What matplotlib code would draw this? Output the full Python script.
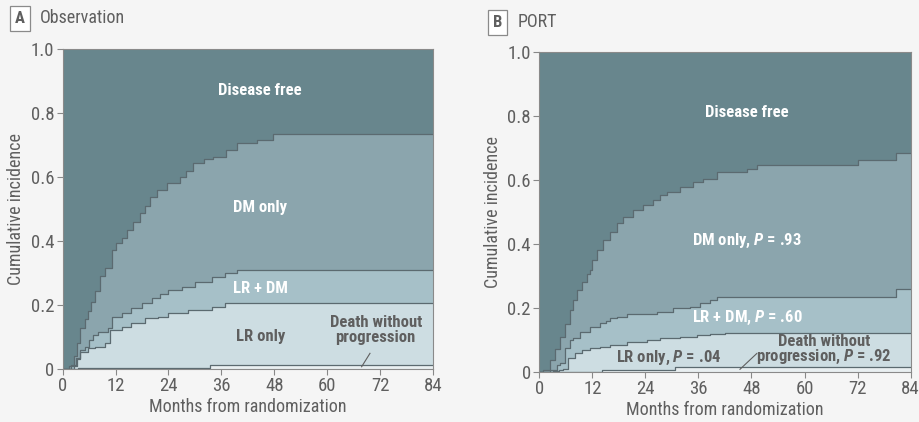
import matplotlib
matplotlib.use("Agg")
import matplotlib.pyplot as plt

plt.rcParams["font.family"] = ["Roboto Condensed", "Roboto", "DejaVu Sans"]
plt.rcParams["mathtext.fontset"] = "custom"
plt.rcParams["mathtext.it"] = "Roboto Condensed:italic:bold"
plt.rcParams["mathtext.rm"] = "Roboto Condensed:bold"

# cumulative incidence, stacked: death, LR only, LR + DM, DM only (months, proportion)
obs_death_t = [0, 3.5, 33.4, 84]
obs_death_v = [0, 0.003, 0.013, 0.013]
obs_lr_t = [0, 2.5, 3.2, 3.9, 5.8, 7.3, 9.6, 10.7, 13.4, 15.6, 18.7, 21.7, 24.0, 28.5, 33.8, 36.8, 84]
obs_lr_v = [0, 0.01, 0.03, 0.054, 0.065, 0.07, 0.08, 0.122, 0.132, 0.143, 0.158, 0.163, 0.174, 0.184, 0.195, 0.205, 0.205]
obs_lrdm_t = [0, 2.0, 3.0, 3.9, 5.1, 6.0, 6.9, 8.1, 10.3, 11.1, 13.4, 15.6, 17.9, 20.2, 22.0, 24.0, 27.0, 30.0, 33.8, 36.8, 39.5, 84]
obs_lrdm_v = [0, 0.012, 0.035, 0.059, 0.07, 0.09, 0.106, 0.117, 0.127, 0.163, 0.174, 0.19, 0.205, 0.221, 0.235, 0.247, 0.257, 0.273, 0.288, 0.299, 0.309, 0.309]
obs_dm_t = [0, 1.5, 2.5, 3.2, 3.9, 5.0, 5.8, 6.5, 7.3, 8.5, 9.6, 11.1, 12.2, 13.4, 14.5, 16.0, 17.5, 18.6,
            19.8, 21.5, 23.6, 26.6, 28.0, 29.6, 32.0, 34.2, 37.0, 39.5, 44.0, 47.8, 84]
obs_dm_v = [0, 0.01, 0.04, 0.08, 0.127, 0.155, 0.18, 0.21, 0.245, 0.29, 0.315, 0.372, 0.393, 0.41, 0.434, 0.46, 0.486, 0.51,
            0.538, 0.56, 0.58, 0.60, 0.62, 0.643, 0.655, 0.663, 0.685, 0.705, 0.716, 0.734, 0.734]

port_death_t = [0, 14.1, 30.7, 84]
port_death_v = [0, 0.006, 0.014, 0.014]
port_lr_t = [0, 3.0, 4.5, 5.4, 6.6, 8.1, 9.6, 11.5, 13.7, 16.0, 19.8, 24.3, 27.3, 31.8, 35.6, 38.6, 42.0, 84]
port_lr_v = [0, 0.003, 0.006, 0.01, 0.042, 0.057, 0.068, 0.073, 0.078, 0.083, 0.094, 0.099, 0.104, 0.109, 0.115, 0.118, 0.122, 0.122]
port_lrdm_t = [0, 2.4, 3.9, 4.7, 5.8, 6.9, 7.7, 9.2, 11.5, 13.7, 15.2, 16.0, 17.5, 19.8, 26.6, 30.3, 34.1, 36.3, 38.6, 40.1, 80.8, 84]
port_lrdm_v = [0, 0.005, 0.02, 0.026, 0.073, 0.099, 0.105, 0.125, 0.14, 0.151, 0.158, 0.167, 0.172, 0.182, 0.1875, 0.198, 0.203, 0.214, 0.224, 0.234, 0.258, 0.258]
port_dm_t = [0, 0.9, 2.4, 3.5, 4.7, 5.8, 6.9, 7.7, 8.5, 9.6, 10.7, 11.5, 11.9, 13.0, 14.5, 16.0, 17.5, 19.0, 21.3,
             23.5, 25.8, 27.3, 28.8, 31.8, 34.8, 37.1, 40.1, 46.9, 49.2, 72.2, 80.8, 84]
port_dm_v = [0, 0.005, 0.037, 0.07, 0.11, 0.15, 0.193, 0.225, 0.255, 0.28, 0.307, 0.318, 0.349, 0.38, 0.412, 0.4375, 0.464, 0.484, 0.505,
             0.521, 0.537, 0.552, 0.563, 0.578, 0.594, 0.604, 0.625, 0.636, 0.646, 0.664, 0.684, 0.684]

x_ticks = [0, 12, 24, 36, 48, 60, 72, 84]
y_ticks = [0, 0.2, 0.4, 0.6, 0.8, 1.0]
y_tick_labels = ["0", "0.2", "0.4", "0.6", "0.8", "1.0"]

col_free = "#68868d"
col_dm = "#8ba5ad"
col_lrdm = "#a6c0c8"
col_lr = "#cddde2"
col_death = "#e9eff1"
col_edge = "#5b6a70"
col_text = "#5f5f5f"
bg = "#f5f5f5"

fig = plt.figure(figsize=(9.19, 4.22), dpi=100, facecolor=bg)
ax_a = fig.add_axes([0.0682, 0.1256, 0.4030, 0.7583])
ax_b = fig.add_axes([0.5868, 0.1192, 0.4041, 0.7569])


def draw_panel(ax, curves):
    ax.set_facecolor(col_free)
    cols = [col_dm, col_lrdm, col_lr, col_death]
    # paint from the top band down so each lower band covers the one above
    for (t, v), c in zip(curves, cols):
        ax.fill_between(t, 0, v, step="post", color=c, lw=0, zorder=1)
    for t, v in curves:
        ax.step(t, v, where="post", color=col_edge, lw=0.9, zorder=2)
    ax.set_xlim(0, 84)
    ax.set_ylim(0, 1.0)
    ax.set_xticks(x_ticks)
    ax.set_yticks(y_ticks)
    ax.set_yticklabels(y_tick_labels)
    ax.tick_params(colors="#888888", labelcolor=col_text, labelsize=13.5, length=4, width=0.8, pad=2)
    for s in ax.spines.values():
        s.set_color("#8a8a8a")
        s.set_linewidth(0.8)
    ax.set_xlabel("Months from randomization", fontsize=13, color=col_text, labelpad=2)
    ax.set_ylabel("Cumulative incidence", fontsize=13, color=col_text, labelpad=4)


draw_panel(ax_a, [(obs_dm_t, obs_dm_v), (obs_lrdm_t, obs_lrdm_v), (obs_lr_t, obs_lr_v), (obs_death_t, obs_death_v)])
draw_panel(ax_b, [(port_dm_t, port_dm_v), (port_lrdm_t, port_lrdm_v), (port_lr_t, port_lr_v), (port_death_t, port_death_v)])

lbl = dict(ha="center", va="center", fontsize=12, fontweight="semibold", zorder=3)

ax_a.text(44.8, 0.87, "Disease free", color="white", **lbl)
ax_a.text(44.8, 0.505, "DM only", color="white", **lbl)
ax_a.text(44.8, 0.252, "LR + DM", color="white", **lbl)
ax_a.text(44.8, 0.101, "LR only", color=col_text, **lbl)
ax_a.text(71.0, 0.122, "Death without\nprogression", color=col_text, linespacing=0.95, **lbl)
ax_a.plot([69.7, 67.8], [0.049, 0.007], color=col_text, lw=0.8, zorder=3)

ax_b.text(47.0, 0.81, "Disease free", color="white", **lbl)
ax_b.text(47.0, 0.41, "DM only, $P$ = .93", color="white", **lbl)
ax_b.text(47.0, 0.167, "LR + DM, $P$ = .60", color="white", **lbl)
ax_b.text(29.2, 0.042, "LR only, $P$ = .04", color=col_text, **lbl)
ax_b.text(64.4, 0.068, "Death without\nprogression, $P$ = .92", color=col_text, linespacing=0.95, **lbl)
ax_b.plot([49.2, 45.4], [0.057, 0.0075], color=col_text, lw=0.8, zorder=3)

box = dict(boxstyle="square,pad=0.3", fc="white", ec="#8a8a8a", lw=0.9)
fig.text(0.0218, 0.957, "A", ha="center", va="center", fontsize=12, fontweight="bold", color=col_text, bbox=box)
fig.text(0.0435, 0.958, "Observation", ha="left", va="center", fontsize=13, color=col_text)
fig.text(0.5413, 0.9467, "B", ha="center", va="center", fontsize=12, fontweight="bold", color=col_text, bbox=box)
fig.text(0.5637, 0.9475, "PORT", ha="left", va="center", fontsize=13, color=col_text)

fig.savefig("out.png", dpi=100, facecolor=bg)
